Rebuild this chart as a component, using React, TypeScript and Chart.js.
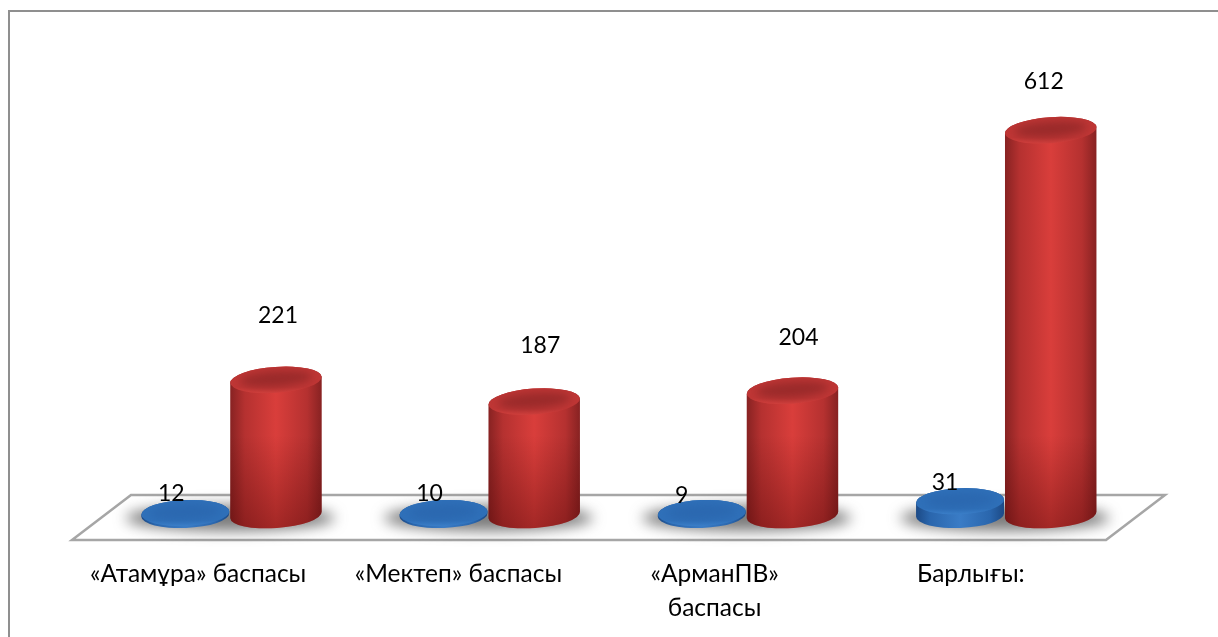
import React, { useEffect, useRef } from "react";
import { Chart, registerables } from "chart.js";

Chart.register(...registerables);

const categories: (string | string[])[] = [
  "«Атамұра» баспасы",
  "«Мектеп» баспасы",
  ["«АрманПВ»", "баспасы"],
  "Барлығы:",
];
const blueValues = [12, 10, 9, 31];
const redValues = [221, 187, 204, 612];

const FONT = "Lato, 'Open Sans', sans-serif";
const TICK_SHIFT = [-32, -30, -32, -34];
const BLUE_LABEL_OFF: [number, number][] = [[-13, -20], [-13, -21], [-19, -20], [-14, -19]];
const RED_LABEL_OFF: [number, number][] = [[2, -64], [6, -56], [6, -53], [-7, -49]];

type Palette = { edge: string; mid: string; bright: string; capRim: string; capCore: string; capLow: string };
const RED: Palette = { edge: "#872222", mid: "#b53130", bright: "#d93e3b", capRim: "#bf3635", capCore: "#9a2a2a", capLow: "#d2403d" };
const BLUE: Palette = { edge: "#1c4a86", mid: "#2a66ad", bright: "#3a7cc6", capRim: "#2f70b9", capCore: "#2b68b0", capLow: "#3c80ca" };

function cylinder(ctx: CanvasRenderingContext2D, cx: number, yTop: number, yBase: number, rx: number, ry: number, tilt: number, p: Palette, shade: boolean) {
  ctx.save();
  ctx.beginPath();
  ctx.ellipse(cx, yBase, rx, ry, tilt, Math.PI, 0, true);
  ctx.ellipse(cx, yTop, rx, ry, tilt, 0, Math.PI, true);
  ctx.closePath();
  const g = ctx.createLinearGradient(cx - rx, 0, cx + rx, 0);
  g.addColorStop(0, p.edge);
  g.addColorStop(0.16, p.mid);
  g.addColorStop(0.5, p.bright);
  g.addColorStop(0.84, p.mid);
  g.addColorStop(1, p.edge);
  ctx.fillStyle = g;
  ctx.fill();
  if (shade) {
    ctx.clip();
    const v = ctx.createLinearGradient(0, yBase - 80, 0, yBase + ry);
    v.addColorStop(0, "rgba(70,0,0,0)");
    v.addColorStop(1, "rgba(70,0,0,0.36)");
    ctx.fillStyle = v;
    ctx.fillRect(cx - rx - 2, yBase - 80, rx * 2 + 4, 80 + ry + 4);
  }
  ctx.restore();

  ctx.save();
  ctx.beginPath();
  ctx.ellipse(cx, yTop, rx, ry, tilt, 0, Math.PI * 2);
  const c = ctx.createLinearGradient(0, yTop - ry, 0, yTop + ry);
  c.addColorStop(0, p.capRim);
  c.addColorStop(0.78, p.capRim);
  c.addColorStop(1, p.capLow);
  ctx.fillStyle = c;
  ctx.fill();
  ctx.clip();
  ctx.filter = "blur(4px)";
  ctx.beginPath();
  ctx.ellipse(cx, yTop - 1, rx * 0.8, ry * 0.6, tilt, 0, Math.PI * 2);
  ctx.fillStyle = p.capCore;
  ctx.fill();
  ctx.restore();
}

const scene = {
  id: "scene",
  beforeDraw(chart: any) {
    const { ctx, width, height } = chart;
    ctx.save();
    ctx.fillStyle = "#ffffff";
    ctx.fillRect(0, 0, width, height);
    ctx.strokeStyle = "#8f8f8f";
    ctx.lineWidth = 2;
    ctx.beginPath();
    ctx.moveTo(9, height);
    ctx.lineTo(9, 11);
    ctx.lineTo(width, 11);
    ctx.stroke();
    ctx.restore();
    chart.scales.x.getLabelItems().forEach((it: any, i: number) => {
      if (!it._moved) {
        it.options.translation[0] += TICK_SHIFT[i];
        it._moved = true;
      }
    });
  },
  beforeDatasetsDraw(chart: any) {
    const { ctx, chartArea } = chart;
    const y0 = chart.scales.y.getPixelForValue(0);
    ctx.save();
    ctx.beginPath();
    ctx.moveTo(chartArea.left - 29, y0 + 19);
    ctx.lineTo(chartArea.right - 28, y0 + 19);
    ctx.lineTo(chartArea.right + 31, y0 - 26);
    ctx.lineTo(chartArea.left + 30, y0 - 26);
    ctx.closePath();
    ctx.strokeStyle = "#a6a6a6";
    ctx.lineWidth = 2.5;
    ctx.stroke();
    ctx.filter = "blur(7px)";
    ctx.fillStyle = "rgba(80,80,80,0.75)";
    const blue = chart.getDatasetMeta(0).data;
    const red = chart.getDatasetMeta(1).data;
    blue.forEach((b: any, i: number) => {
      const r = red[i];
      ctx.beginPath();
      ctx.ellipse((b.x + r.x) / 2, y0 - 3, r.width * 1.14, 13, 0, 0, Math.PI * 2);
      ctx.fill();
    });
    ctx.restore();
  },
  afterDatasetsDraw(chart: any) {
    const { ctx } = chart;
    const y0 = chart.scales.y.getPixelForValue(0);
    const yBase = y0 - 6;
    const blue = chart.getDatasetMeta(0).data;
    const red = chart.getDatasetMeta(1).data;
    blue.forEach((b: any) => {
      cylinder(ctx, b.x + 1, Math.min(b.y, yBase - 2), yBase, b.width * 0.48, 13, -0.04, BLUE, false);
    });
    red.forEach((r: any) => {
      cylinder(ctx, r.x, r.y, yBase, r.width / 2, 13, -0.07, RED, true);
    });
    ctx.save();
    ctx.fillStyle = "#000000";
    ctx.font = `23px ${FONT}`;
    ctx.textAlign = "center";
    ctx.textBaseline = "middle";
    blue.forEach((b: any, i: number) => {
      ctx.fillText(String(blueValues[i]), b.x + BLUE_LABEL_OFF[i][0], b.y + BLUE_LABEL_OFF[i][1]);
    });
    red.forEach((r: any, i: number) => {
      ctx.fillText(String(redValues[i]), r.x + RED_LABEL_OFF[i][0], r.y + RED_LABEL_OFF[i][1]);
    });
    ctx.restore();
  },
};

export default function App() {
  const ref = useRef<HTMLCanvasElement>(null);
  useEffect(() => {
    const chart = new Chart(ref.current as HTMLCanvasElement, {
      type: "bar",
      data: {
        labels: categories as any,
        datasets: [
          { label: "Blue", data: blueValues, backgroundColor: "rgba(0,0,0,0)" },
          { label: "Red", data: redValues, backgroundColor: "rgba(0,0,0,0)" },
        ],
      },
      options: {
        animation: false,
        responsive: false,
        devicePixelRatio: 1,
        layout: { padding: { top: 74, left: 101, right: 84, bottom: 0 } },
        datasets: { bar: { categoryPercentage: 0.71, barPercentage: 1 } },
        plugins: { legend: { display: false }, tooltip: { enabled: false } },
        scales: {
          y: { display: false, min: 0, max: 700 },
          x: {
            grid: { display: false },
            border: { display: false },
            afterFit(scale: any) {
              scale.height = 116;
            },
            ticks: {
              maxRotation: 0,
              autoSkip: false,
              padding: 29,
              color: "#000000",
              font: { family: FONT, size: 24.5, lineHeight: 1.35 },
            },
          },
        },
      },
      plugins: [scene],
    } as any);
    return () => chart.destroy();
  }, []);
  return (
    <div style={{ position: "fixed", left: 0, top: 0, width: 1218, height: 637, background: "#fff" }}>
      <canvas ref={ref} width={1218} height={637} style={{ display: "block", width: 1218, height: 637 }} />
    </div>
  );
}
